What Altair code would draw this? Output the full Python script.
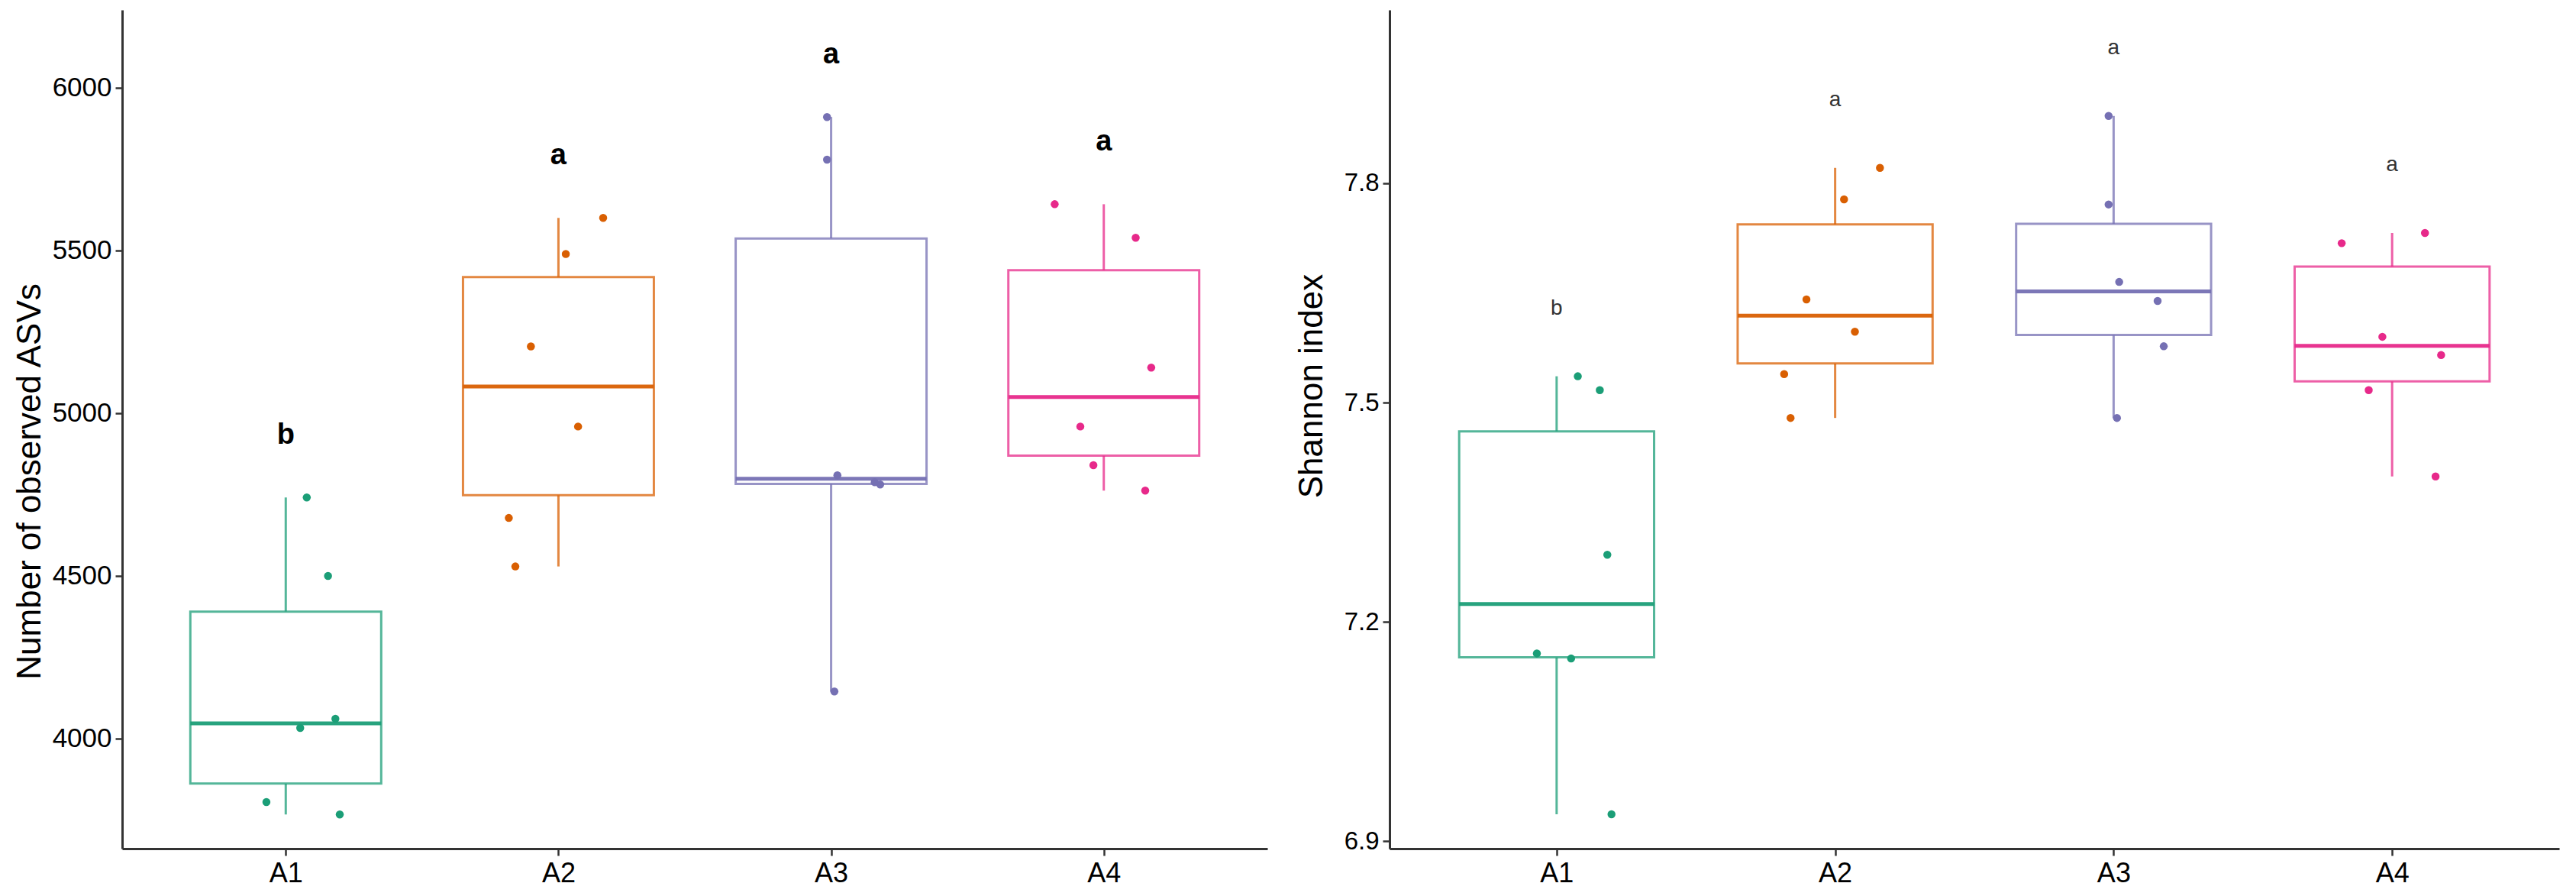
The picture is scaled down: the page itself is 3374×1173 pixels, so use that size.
import altair as alt
import pandas as pd

groups = ["A1", "A2", "A3", "A4"]
letters = ["b", "a", "a", "a"]
colors = ["#1B9E77", "#D95F02", "#7570B3", "#E7298A"]

# Number of observed ASVs (per group, sample order)
asv_values = [
    [3767, 3805, 4033, 4061, 4500, 4741],
    [4529, 4678, 4959, 5205, 5489, 5600],
    [4145, 4781, 4788, 4809, 5779, 5910],
    [4762, 4840, 4959, 5140, 5539, 5642],
]
asv_jitter = [
    [0.198, -0.071, 0.053, 0.182, 0.155, 0.077],
    [-0.158, -0.182, 0.072, -0.101, 0.027, 0.164],
    [0.012, 0.180, 0.160, 0.023, -0.015, -0.015],
    [0.152, -0.038, -0.086, 0.174, 0.117, -0.180],
]

# Shannon index
shannon_values = [
    [6.937, 7.150, 7.157, 7.292, 7.517, 7.536],
    [7.479, 7.539, 7.597, 7.641, 7.778, 7.821],
    [7.479, 7.577, 7.639, 7.665, 7.771, 7.892],
    [7.399, 7.517, 7.565, 7.590, 7.718, 7.732],
]
shannon_jitter = [
    [0.197, 0.052, -0.071, 0.182, 0.155, 0.076],
    [-0.160, -0.183, 0.071, -0.103, 0.032, 0.161],
    [0.012, 0.180, 0.158, 0.020, -0.018, -0.018],
    [0.156, -0.084, 0.176, -0.035, -0.181, 0.118],
]

asv_ticks = [4000, 4500, 5000, 5500, 6000]
shannon_ticks = [6.9, 7.2, 7.5, 7.8]

FONT = "Liberation Sans"


def panel(values, jitter, ydom, yticks, yfmt, ytitle, title_y, title_pad,
          label_size, letter_off, letter_size, letter_weight, letter_color, width):
    rows = []
    for i, g in enumerate(groups):
        for v, j in zip(values[i], jitter[i]):
            rows.append({"group": g, "pos": i + 1, "value": v, "jit": j, "letter": letters[i]})
    df = pd.DataFrame(rows)
    base = alt.Chart(df)

    color_scale = alt.Scale(domain=groups, range=colors)
    xs = alt.Scale(domain=[0.4, 4.6], nice=False, zero=False)
    ys = alt.Scale(domain=ydom, nice=False, zero=False)
    xaxis = alt.Axis(values=[1, 2, 3, 4],
                     labelExpr="['A1','A2','A3','A4'][datum.value-1]",
                     title=None, labelFontSize=36, labelPadding=6)
    yaxis = alt.Axis(values=yticks, format=yfmt, title=ytitle, titleY=title_y,
                     titlePadding=title_pad, labelFontSize=label_size, labelPadding=5)

    def X(f):
        return alt.X(f, scale=xs, axis=xaxis)

    def Y(f):
        return alt.Y(f, scale=ys, axis=yaxis)

    col = alt.Color("group:N", scale=color_scale, legend=None)
    stroke = alt.Stroke("group:N", scale=color_scale, legend=None)

    stats = base.transform_aggregate(
        q1="q1(value)", q3="q3(value)", med="median(value)",
        lo="min(value)", hi="max(value)",
        groupby=["group", "pos", "letter"],
    ).transform_calculate(
        xl="datum.pos - 0.35", xr="datum.pos + 0.35",
        ly=f"datum.hi + {letter_off}",
    )

    whisk_hi = stats.mark_rule(strokeWidth=3, opacity=0.75).encode(
        x=X("pos:Q"), y=Y("q3:Q"), y2=alt.Y2("hi:Q"), color=col)
    whisk_lo = stats.mark_rule(strokeWidth=3, opacity=0.75).encode(
        x=X("pos:Q"), y=Y("lo:Q"), y2=alt.Y2("q1:Q"), color=col)
    box = stats.mark_rect(fill="white", strokeWidth=3, strokeOpacity=0.75).encode(
        x=X("xl:Q"), x2=alt.X2("xr:Q"), y=Y("q1:Q"), y2=alt.Y2("q3:Q"), stroke=stroke)
    median = stats.mark_rule(strokeWidth=5, opacity=0.95).encode(
        x=X("xl:Q"), x2=alt.X2("xr:Q"), y=Y("med:Q"), color=col)
    points = base.transform_calculate(xj="datum.pos + datum.jit").mark_circle(
        size=110, opacity=1).encode(x=X("xj:Q"), y=Y("value:Q"), color=col)
    text = stats.mark_text(font=FONT, fontSize=letter_size, fontWeight=letter_weight,
                           color=letter_color, baseline="middle", align="center").encode(
        x=X("pos:Q"), y=Y("ly:Q"), text="letter:N")

    return alt.layer(whisk_hi, whisk_lo, box, median, points, text).properties(
        width=width, height=1098)


left = panel(asv_values, asv_jitter, [3662, 6239], asv_ticks, "d",
             "Number of observed ASVs", 617, 7, 35, 190, 38, "bold", "#000000", 1500)
right = panel(shannon_values, shannon_jitter, [6.89, 8.037], shannon_ticks, ".1f",
              "Shannon index", 492, 20, 33, 0.093, 28, "normal", "#333333", 1532)

chart = alt.hconcat(left, right, spacing=36).properties(
    padding={"left": 9, "top": 5, "right": 5, "bottom": 5},
    background="white",
).configure_view(stroke=None).configure_axis(
    grid=False,
    domainColor="#333333", domainWidth=3,
    tickColor="#333333", tickWidth=2.5, tickSize=9,
    labelColor="#000000", labelFont=FONT,
    titleFont=FONT, titleFontSize=44, titleFontWeight="normal", titleColor="#000000",
)

chart.save("out.html", embed_options={"renderer": "svg", "actions": False})
